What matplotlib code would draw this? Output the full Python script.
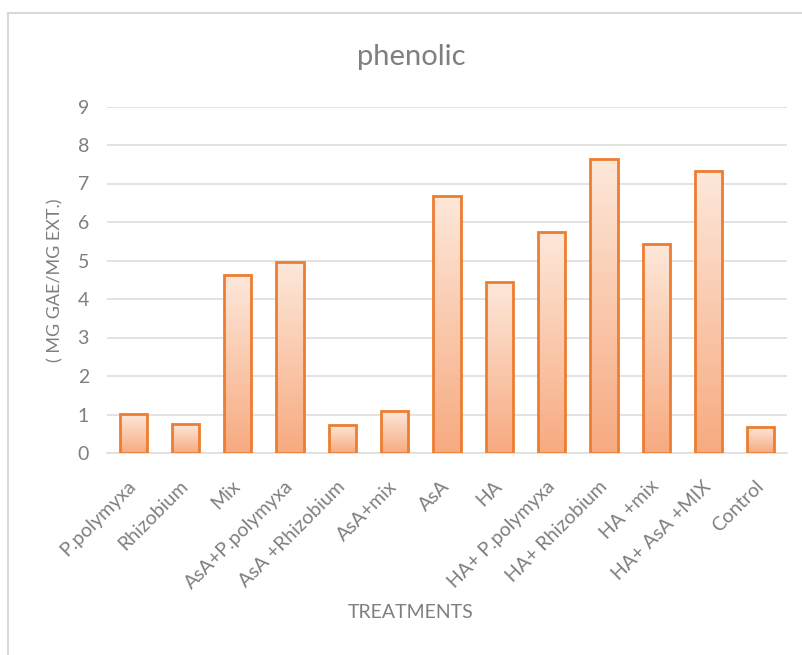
import numpy as np
import matplotlib
matplotlib.use("Agg")
import matplotlib.pyplot as plt
from matplotlib.colors import LinearSegmentedColormap
from matplotlib.lines import Line2D

# data
treatments = ["P.polymyxa", "Rhizobium", "Mix", "AsA+P.polymyxa", "AsA +Rhizobium",
              "AsA+mix", "AsA", "HA", "HA+ P.polymyxa", "HA+ Rhizobium",
              "HA +mix", "HA+ AsA +MIX", "Control"]
phenolic = [1.01, 0.75, 4.62, 4.96, 0.73, 1.09, 6.68, 4.44, 5.74, 7.64, 5.43, 7.32, 0.68]
yticks = list(range(0, 10))

plt.rcParams['font.family'] = ['Lato', 'DejaVu Sans']
grey = '#7f7f7f'
edge = '#ed7d31'

fig = plt.figure(figsize=(8.02, 6.55), dpi=100)
W, H = 802, 655
ax = fig.add_axes([107 / W, 1 - 453 / H, (787 - 107) / W, (453 - 106.5) / H])

cmap = LinearSegmentedColormap.from_list('grad', ['#f7aa80', '#fde8da'])
grad = np.linspace(0, 1, 256).reshape(-1, 1)

x = np.arange(len(treatments))
bw = 0.52
for xi, v in zip(x, phenolic):
    ax.imshow(grad, cmap=cmap, origin='lower', aspect='auto',
              extent=[xi - bw / 2, xi + bw / 2, 0, v], zorder=2)
ax.bar(x, phenolic, width=bw, facecolor='none', edgecolor=edge, linewidth=2, zorder=3)

ax.set_xlim(-0.5, len(treatments) - 0.5)
ax.set_ylim(0, 9)
ax.set_yticks(yticks)
ax.grid(axis='y', color='#dedede', linewidth=1.2, zorder=0)
ax.set_axisbelow(True)
for s in ['top', 'right', 'left']:
    ax.spines[s].set_visible(False)
ax.spines['bottom'].set_color('#dedede')
ax.spines['bottom'].set_linewidth(1.2)
ax.tick_params(axis='both', length=0, colors=grey)
ax.tick_params(axis='y', labelsize=14, pad=13)
ax.set_xticks(x)
ax.set_xticklabels(treatments, rotation=45, ha='right', va='center',
                   rotation_mode='anchor', fontsize=14)
ax.tick_params(axis='x', pad=22)

fig.text(411 / W, 1 - 57 / H, 'phenolic', ha='center', va='center', fontsize=21,
         color=grey)
fig.text(55 / W, 1 - 280 / H, '( MG GAE/MG EXT.)', ha='center', va='center', rotation=90,
         fontsize=13, color=grey)
fig.text(411 / W, 1 - 612 / H, 'TREATMENTS', ha='center', va='center', fontsize=14,
         color=grey)

# chart frame (top and left edges visible)
fig.add_artist(Line2D([8 / W, 1.0], [1 - 13 / H, 1 - 13 / H], color='#d9d9d9', linewidth=1.5,
                      transform=fig.transFigure))
fig.add_artist(Line2D([8 / W, 8 / W], [1 - 13 / H, 0], color='#d9d9d9', linewidth=1.5,
                      transform=fig.transFigure))

fig.savefig('out.png', dpi=100)
